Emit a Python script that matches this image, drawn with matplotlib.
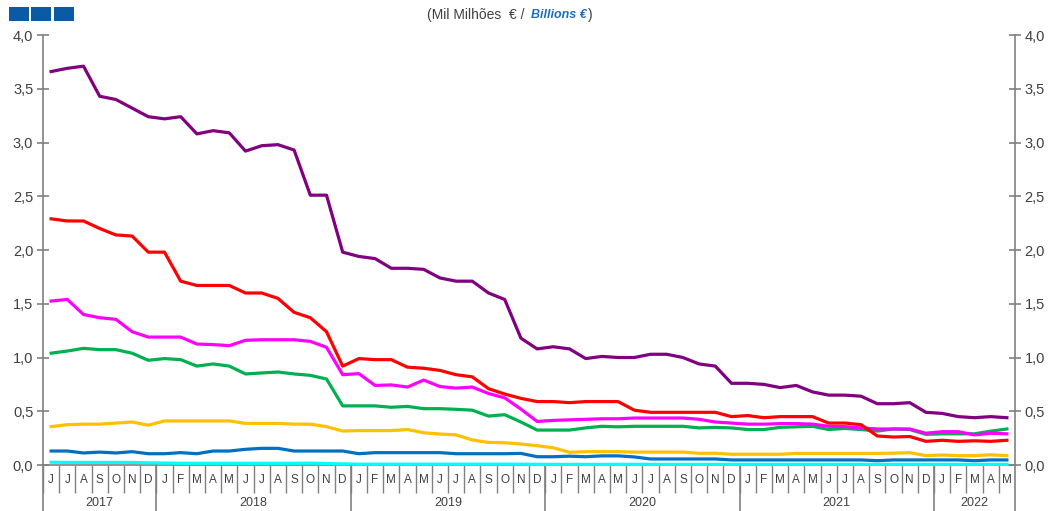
import numpy as np
import matplotlib
matplotlib.use('Agg')
import matplotlib.pyplot as plt
from matplotlib.patches import Rectangle
import matplotlib.transforms as mtrans

# Months Jun 2017 .. May 2022
months = ['J', 'J', 'A', 'S', 'O', 'N', 'D'] + ['J', 'F', 'M', 'A', 'M', 'J', 'J', 'A', 'S', 'O', 'N', 'D'] * 4 + ['J', 'F', 'M', 'A', 'M']
years = ['2017', '2018', '2019', '2020', '2021', '2022']
year_len = [7, 12, 12, 12, 12, 5]

purple = [3.66, 3.69, 3.71, 3.43, 3.40, 3.32, 3.24,
	3.22, 3.24, 3.08, 3.11, 3.09, 2.92, 2.97, 2.98, 2.93, 2.51, 2.51, 1.98,
	1.94, 1.92, 1.83, 1.83, 1.82, 1.74, 1.71, 1.71, 1.60, 1.54, 1.18, 1.08,
	1.10, 1.08, 0.99, 1.01, 1.00, 1.00, 1.03, 1.03, 1.00, 0.94, 0.92, 0.76,
	0.76, 0.75, 0.72, 0.74, 0.68, 0.65, 0.65, 0.64, 0.57, 0.57, 0.58, 0.49,
	0.48, 0.45, 0.44, 0.45, 0.44]
red = [2.29, 2.27, 2.27, 2.20, 2.14, 2.13, 1.98,
	1.98, 1.71, 1.67, 1.67, 1.67, 1.60, 1.60, 1.55, 1.42, 1.37, 1.24, 0.92,
	0.99, 0.98, 0.98, 0.91, 0.90, 0.88, 0.84, 0.82, 0.71, 0.66, 0.62, 0.59,
	0.59, 0.58, 0.59, 0.59, 0.59, 0.51, 0.49, 0.49, 0.49, 0.49, 0.49, 0.45,
	0.46, 0.44, 0.45, 0.45, 0.45, 0.39, 0.39, 0.375, 0.27, 0.26, 0.265, 0.22,
	0.23, 0.22, 0.225, 0.22, 0.23]
magenta = [1.525, 1.54, 1.40, 1.37, 1.355, 1.24, 1.19,
	1.19, 1.19, 1.125, 1.12, 1.11, 1.16, 1.165, 1.165, 1.165, 1.15, 1.095, 0.84,
	0.85, 0.74, 0.745, 0.725, 0.79, 0.73, 0.715, 0.725, 0.665, 0.625, 0.52, 0.405,
	0.415, 0.42, 0.425, 0.43, 0.43, 0.437, 0.437, 0.437, 0.437, 0.425, 0.40, 0.39,
	0.38, 0.38, 0.385, 0.385, 0.38, 0.36, 0.357, 0.345, 0.335, 0.335, 0.335, 0.295,
	0.31, 0.31, 0.28, 0.295, 0.29]
green = [1.04, 1.06, 1.085, 1.073, 1.073, 1.04, 0.974,
	0.99, 0.98, 0.92, 0.94, 0.92, 0.847, 0.856, 0.865, 0.847, 0.834, 0.80, 0.55,
	0.55, 0.55, 0.537, 0.545, 0.524, 0.524, 0.518, 0.51, 0.455, 0.468, 0.40, 0.325,
	0.325, 0.325, 0.345, 0.36, 0.355, 0.36, 0.36, 0.36, 0.36, 0.345, 0.35, 0.345,
	0.33, 0.33, 0.35, 0.355, 0.36, 0.33, 0.34, 0.33, 0.316, 0.335, 0.33, 0.285,
	0.29, 0.29, 0.29, 0.315, 0.335]
yellow = [0.357, 0.375, 0.38, 0.38, 0.39, 0.40, 0.37,
	0.41, 0.41, 0.41, 0.41, 0.41, 0.387, 0.387, 0.387, 0.38, 0.38, 0.357, 0.316,
	0.32, 0.32, 0.32, 0.33, 0.30, 0.288, 0.28, 0.233, 0.21, 0.207, 0.195, 0.18,
	0.16, 0.118, 0.124, 0.124, 0.124, 0.12, 0.12, 0.12, 0.12, 0.109, 0.109, 0.10,
	0.10, 0.10, 0.10, 0.108, 0.108, 0.108, 0.108, 0.108, 0.108, 0.11, 0.115, 0.087,
	0.093, 0.087, 0.087, 0.095, 0.087]
blue = [0.13, 0.13, 0.112, 0.12, 0.112, 0.124, 0.105,
	0.105, 0.115, 0.105, 0.13, 0.13, 0.146, 0.155, 0.155, 0.13, 0.13, 0.13, 0.13,
	0.105, 0.115, 0.115, 0.115, 0.115, 0.115, 0.105, 0.105, 0.105, 0.105, 0.108, 0.077,
	0.077, 0.082, 0.077, 0.085, 0.085, 0.075, 0.056, 0.056, 0.056, 0.056, 0.056, 0.047,
	0.047, 0.047, 0.047, 0.047, 0.047, 0.047, 0.047, 0.047, 0.04, 0.047, 0.047, 0.047,
	0.047, 0.047, 0.04, 0.047, 0.047]
cyan = [0.026, 0.024, 0.024, 0.024, 0.024, 0.024, 0.02,
	0.018, 0.016, 0.016, 0.016, 0.016, 0.016, 0.016, 0.016, 0.016, 0.018, 0.014, 0.01,
	0.008, 0.008, 0.008, 0.008, 0.008, 0.008, 0.008, 0.008, 0.008, 0.008, 0.008, 0.006,
	0.006, 0.006, 0.006, 0.006, 0.006, 0.006, 0.006, 0.006, 0.006, 0.006, 0.006, 0.006,
	0.006, 0.006, 0.006, 0.006, 0.006, 0.006, 0.006, 0.006, 0.006, 0.006, 0.006, 0.006,
	0.006, 0.006, 0.006, 0.006, 0.006]

series = [
	(cyan, '#00FFFF'),
	(blue, '#0070C0'),
	(yellow, '#FFC000'),
	(green, '#00B050'),
	(magenta, '#FF00FF'),
	(red, '#FF0000'),
	(purple, '#800080'),
]

plt.rcParams['font.family'] = ['Liberation Sans', 'DejaVu Sans']
txt_col = '#404040'
ax_col = '#808080'

fig = plt.figure(figsize=(10.5, 5.11), dpi=100)
ax = fig.add_axes([43 / 1050, 1 - 465 / 511, (1015 - 43) / 1050, (465 - 35) / 511])

x = np.arange(len(months))
for vals, col in series:
	ax.plot(x, vals, color=col, lw=2.3, solid_joinstyle='round', clip_on=False, zorder=3)

ax.set_xlim(-0.5, len(months) - 0.5)
ax.set_ylim(0, 4)
ax.spines['top'].set_visible(False)
for s in ['left', 'right', 'bottom']:
	ax.spines[s].set_color(ax_col)
	ax.spines[s].set_linewidth(1.2)

yt = np.arange(0, 4.01, 0.5)
ax.set_yticks(yt)
ax.set_yticklabels([f'{v:.1f}'.replace('.', ',') for v in yt])
ax.tick_params(axis='y', direction='inout', length=8, width=1.2, color=ax_col,
	labelsize=10.5, labelcolor=txt_col, right=True, labelright=True, pad=3)

# month separators
ax.set_xticks(np.arange(len(months)) - 0.5)
ax.set_xticklabels([])
ax.tick_params(axis='x', direction='out', length=20, width=1.0, color=ax_col)

trans = mtrans.blended_transform_factory(ax.transData, ax.transAxes)
for i, m in enumerate(months):
	ax.text(i, -0.035, m, transform=trans, ha='center', va='center', fontsize=8.5, color=txt_col)

# year labels and separators
start = 0
for yr, n in zip(years, year_len):
	ax.text(start + n / 2 - 0.5, -0.088, yr, transform=trans, ha='center', va='center', fontsize=9, color=txt_col)
	ax.plot([start - 0.5, start - 0.5], [0, -0.11], transform=trans, color=ax_col, lw=1.2, clip_on=False)
	start += n
ax.plot([start - 0.5, start - 0.5], [0, -0.11], transform=trans, color=ax_col, lw=1.2, clip_on=False)

# header squares
for x0 in [9, 31, 54]:
	fig.patches.append(Rectangle((x0 / 1050, 1 - 21 / 511), 20 / 1050, 14 / 511,
		transform=fig.transFigure, facecolor='#0B5AA6', edgecolor='none', lw=0))

fig.text(528 / 1050, 1 - 15 / 511, '(Mil Milhões  € / ', ha='right', va='center', fontsize=10, color=txt_col)
fig.text(531 / 1050, 1 - 15 / 511, 'Billions €', ha='left', va='center', fontsize=9, color='#1F6FB8',
	fontweight='bold', fontstyle='italic')
fig.text(588 / 1050, 1 - 15 / 511, ')', ha='left', va='center', fontsize=10, color=txt_col)

fig.savefig('out.png', dpi=100)
